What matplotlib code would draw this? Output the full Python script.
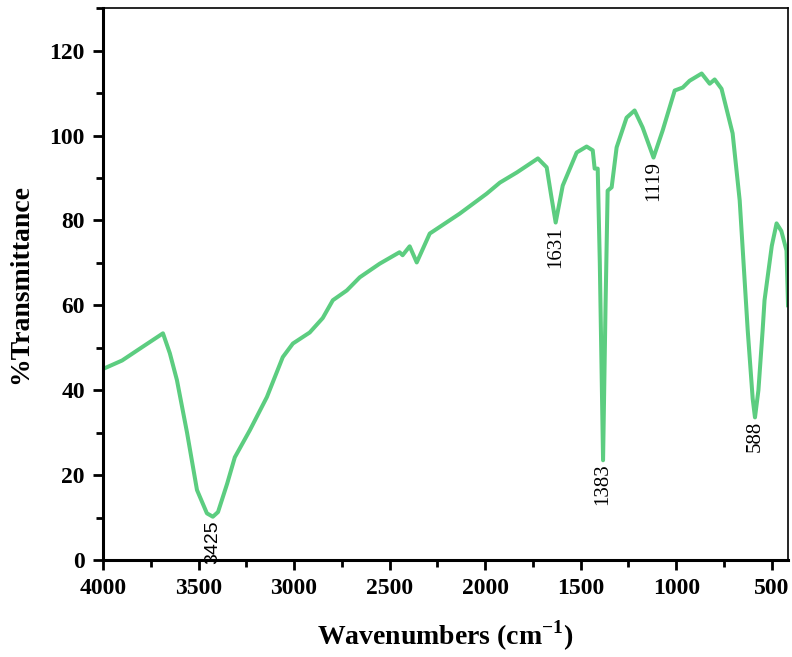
import matplotlib
matplotlib.use("Agg")
import matplotlib.pyplot as plt
from matplotlib.ticker import MultipleLocator

wavenumber = [4000, 3900, 3800, 3686, 3650, 3613, 3560, 3508, 3456, 3425, 3398, 3350,
              3310, 3231, 3142, 3059, 3006, 2918, 2850, 2797, 2724, 2656, 2552, 2448,
              2432, 2395, 2358, 2290, 2133, 1992, 1923, 1834, 1724, 1678, 1655, 1631,
              1594, 1521, 1469, 1437, 1427, 1411, 1400, 1383, 1370, 1359, 1338, 1312,
              1260, 1218, 1176, 1119, 1071, 1008, 966, 930, 867, 825, 799, 763, 705,
              668, 626, 600, 588, 570, 548, 538, 500, 475, 450, 423, 415]
transmittance = [45.0, 47.0, 50.0, 53.4, 48.7, 42.4, 30.0, 16.5, 11.0, 10.2, 11.3, 18.0,
                 24.2, 30.6, 38.4, 47.8, 51.0, 53.6, 57.0, 61.2, 63.5, 66.6, 69.8, 72.5,
                 71.8, 73.9, 70.1, 76.9, 81.6, 86.3, 88.9, 91.3, 94.6, 92.5, 86.0, 79.5,
                 88.2, 96.0, 97.4, 96.5, 92.2, 92.2, 70.0, 23.5, 60.0, 87.0, 87.8, 97.2,
                 104.2, 105.9, 101.9, 94.8, 101.2, 110.6, 111.3, 112.9, 114.6, 112.2,
                 113.2, 111.0, 100.5, 84.7, 54.1, 38.0, 33.6, 40.0, 54.1, 61.2, 74.0,
                 79.3, 77.5, 72.9, 60.0]

peak_labels = ["3425", "1631", "1383", "1119", "588"]
peak_x = [3425, 1631, 1383, 1119, 588]
peak_y = [10.2, 79.5, 23.5, 94.8, 33.6]
peak_font = ['Liberation Sans', 'Liberation Serif', 'Liberation Serif',
             'Liberation Serif', 'Liberation Serif']

plt.rcParams['font.family'] = ['Liberation Serif', 'DejaVu Serif']
plt.rcParams['mathtext.fontset'] = 'custom'
plt.rcParams['mathtext.rm'] = 'Liberation Serif'
plt.rcParams['mathtext.bf'] = 'Liberation Serif:bold'

fig = plt.figure(figsize=(7.92, 6.57), dpi=100)
ax = fig.add_axes([0.130, 0.1476, 0.865, 0.840])
ax.plot(wavenumber, transmittance, color='#5ccd80', lw=2.9, solid_joinstyle='round')

for lab, px, py, fam in zip(peak_labels, peak_x, peak_y, peak_font):
    ax.text(px, py - 0.8, lab, rotation=90, ha='center', va='top',
            fontsize=15 if fam.endswith('Serif') else 14,
            family=fam, color='black')

ax.set_xlim(4000, 415)
ax.set_ylim(0, 130)
ax.xaxis.set_major_locator(MultipleLocator(500))
ax.xaxis.set_minor_locator(MultipleLocator(250))
ax.set_yticks([0, 20, 40, 60, 80, 100, 120])
ax.yaxis.set_minor_locator(MultipleLocator(10))

ax.tick_params(which='major', direction='out', length=7, width=2, labelsize=17, pad=6)
ax.tick_params(which='minor', direction='out', length=5, width=2)
for lab in ax.get_xticklabels() + ax.get_yticklabels():
    lab.set_fontweight('bold')

ax.spines['left'].set_linewidth(2.2)
ax.spines['bottom'].set_linewidth(2.2)
ax.spines['top'].set_linewidth(1.2)
ax.spines['right'].set_linewidth(1.2)

ax.set_xlabel(r'Wavenumbers (cm$^{\mathbf{-1}}$)', fontsize=20, fontweight='bold', labelpad=14)
ax.set_ylabel('%Transmittance', fontsize=20, fontweight='bold', labelpad=12)

fig.savefig('out.png', dpi=100)
